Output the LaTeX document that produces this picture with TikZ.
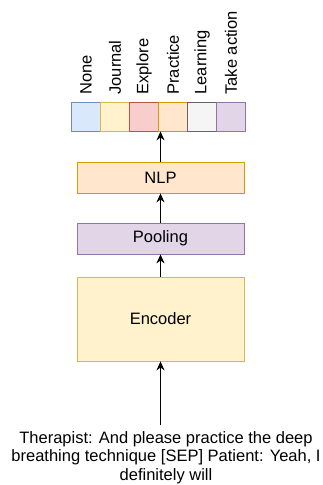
\documentclass[tikz,border=0pt]{standalone}
\usepackage{fontspec}
\setmainfont{Liberation Sans}
\usepackage{color}
\usetikzlibrary{arrows.meta}

\definecolor{nonefill}{HTML}{DAE8FC}
\definecolor{nonedraw}{HTML}{6C8EBF}
\definecolor{yelfill}{HTML}{FFF2CC}
\definecolor{yeldraw}{HTML}{D6B656}
\definecolor{redfill}{HTML}{F8CECC}
\definecolor{reddraw}{HTML}{B85450}
\definecolor{orafill}{HTML}{FFE6CC}
\definecolor{oradraw}{HTML}{D79B00}
\definecolor{grayfill}{HTML}{F5F5F5}
\definecolor{graydraw}{HTML}{666666}
\definecolor{purfill}{HTML}{E1D5E7}
\definecolor{purdraw}{HTML}{9673A6}

\tikzset{
	layer/.style={draw, minimum width=167pt, minimum height=31pt, inner sep=0pt, line width=0.8pt},
	cls/.style={draw, minimum size=29pt, inner sep=0pt, line width=0.8pt},
	clslabel/.style={rotate=90, anchor=west, inner sep=0pt},
}

\begin{document}
\begin{tikzpicture}[x=1pt, y=-1pt, font=\fontsize{16.5}{18.5}\selectfont,
	>={Stealth[length=9pt, width=8pt]}, line width=1pt]
	\useasboundingbox (0,0) rectangle (322,485);
	% layers
	\node[layer, draw=yeldraw, fill=yelfill, minimum height=84pt] (enc) at (160.5,319) {Encoder};
	\node[layer, draw=purdraw, fill=purfill] (pool) at (160.5,238.5) {Pooling};
	\node[layer, draw=oradraw, fill=orafill] (nlp) at (160.5,177.5) {NLP};
	% output classes
	\node[cls, draw=nonedraw, fill=nonefill] (none) at (85.5,116.5) {};
	\node[cls, draw=yeldraw, fill=yelfill] (journal) at (114.5,116.5) {};
	\node[cls, draw=reddraw, fill=redfill] (explore) at (143.5,116.5) {};
	\node[cls, draw=oradraw, fill=orafill] (practice) at (172.5,116.5) {};
	\node[cls, draw=graydraw, fill=grayfill] (learning) at (201.5,116.5) {};
	\node[cls, draw=purdraw, fill=purfill] (action) at (230.5,116.5) {};
	\node[clslabel] (lnone) at (86,95) {None};
	\node[clslabel] (ljournal) at (115,95) {Journal};
	\node[clslabel] (lexplore) at (144,95) {Explore};
	\node[clslabel] (lpractice) at (173,95) {Practice};
	\node[clslabel] (llearning) at (202,95) {Learning};
	\node[clslabel] (laction) at (231,95) {Take action};
	% input text
	\node[align=center, inner sep=0pt, anchor=north] (txt) at (166,431)
	{Therapist: And please practice the deep\\
	breathing technique [SEP] Patient: Yeah, I\\
	definitely will};
	\coordinate (src) at (160.5,425);
	\draw[->] (src) -- (enc.south);
	\draw[->] (enc.north) -- (pool.south);
	\draw[->] (pool.north) -- (nlp.south);
	\draw[->] (nlp.north) -- (nlp.north |- practice.south);
\end{tikzpicture}
\end{document}
